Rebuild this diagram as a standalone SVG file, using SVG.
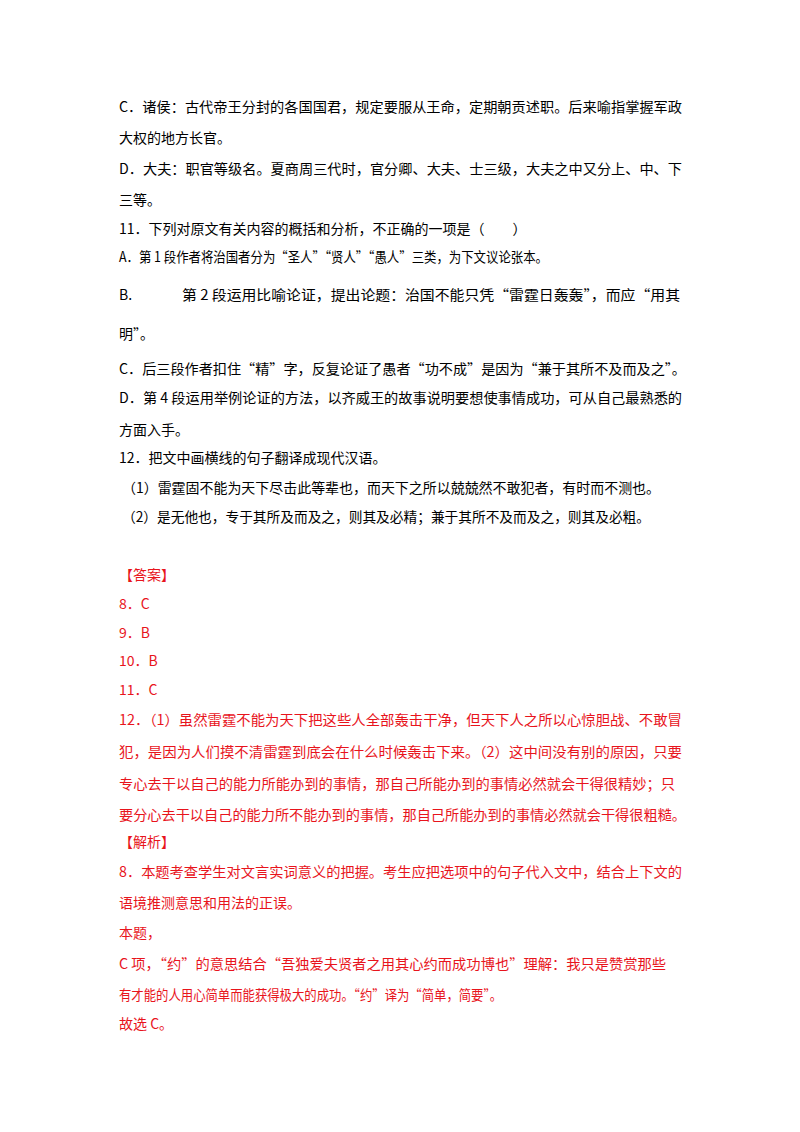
<svg xmlns="http://www.w3.org/2000/svg" width="800" height="1132" viewBox="0 0 800 1132">
<style>
text{font-family:"Noto Sans CJK SC","Liberation Serif",serif;font-size:14px;fill:#000}
.r{fill:#e8141c}
</style>
<rect width="800" height="1132" fill="#fff"/>
<g id="questions">
<text x="119" y="112" textLength="563" lengthAdjust="spacingAndGlyphs">C．诸侯：古代帝王分封的各国国君，规定要服从王命，定期朝贡述职。后来喻指掌握军政</text>
<text x="119" y="143">大权的地方长官。</text>
<text x="119" y="174" textLength="563" lengthAdjust="spacingAndGlyphs">D．大夫：职官等级名。夏商周三代时，官分卿、大夫、士三级，大夫之中又分上、中、下</text>
<text x="119" y="205">三等。</text>
<text x="119" y="234">11．下列对原文有关内容的概括和分析，不正确的一项是（　　）</text>
<text x="119" y="262" textLength="429" lengthAdjust="spacingAndGlyphs">A．第 1 段作者将治国者分为“圣人”“贤人”“愚人”三类，为下文议论张本。</text>
<text x="119" y="300">B.</text>
<text x="182" y="300" textLength="498" lengthAdjust="spacingAndGlyphs">第 2 段运用比喻论证，提出论题：治国不能只凭“雷霆日轰轰”，而应“用其</text>
<text x="119" y="339">明”。</text>
<text x="119" y="374" textLength="567" lengthAdjust="spacingAndGlyphs">C．后三段作者扣住“精”字，反复论证了愚者“功不成”是因为“兼于其所不及而及之”。</text>
<text x="119" y="403" textLength="563" lengthAdjust="spacingAndGlyphs">D．第 4 段运用举例论证的方法，以齐威王的故事说明要想使事情成功，可从自己最熟悉的</text>
<text x="119" y="435">方面入手。</text>
<text x="119" y="463">12．把文中画横线的句子翻译成现代汉语。</text>
<text x="122" y="493" textLength="538" lengthAdjust="spacingAndGlyphs">（1）雷霆固不能为天下尽击此等辈也，而天下之所以兢兢然不敢犯者，有时而不测也。</text>
<text x="122" y="522" textLength="528" lengthAdjust="spacingAndGlyphs">（2）是无他也，专于其所及而及之，则其及必精；兼于其所不及而及之，则其及必粗。</text>
</g>
<g id="answers">
<text class="r" x="119" y="580">【答案】</text>
<text class="r" x="119" y="609">8．C</text>
<text class="r" x="119" y="638">9．B</text>
<text class="r" x="119" y="666">10．B</text>
<text class="r" x="119" y="695">11．C</text>
<text class="r" x="119" y="725" textLength="563" lengthAdjust="spacingAndGlyphs">12．（1）虽然雷霆不能为天下把这些人全部轰击干净，但天下人之所以心惊胆战、不敢冒</text>
<text class="r" x="119" y="757" textLength="563" lengthAdjust="spacingAndGlyphs">犯，是因为人们摸不清雷霆到底会在什么时候轰击下来。（2）这中间没有别的原因，只要</text>
<text class="r" x="119" y="789" textLength="556" lengthAdjust="spacingAndGlyphs">专心去干以自己的能力所能办到的事情，那自己所能办到的事情必然就会干得很精妙；只</text>
<text class="r" x="119" y="820" textLength="567" lengthAdjust="spacingAndGlyphs">要分心去干以自己的能力所不能办到的事情，那自己所能办到的事情必然就会干得很粗糙。</text>
<text class="r" x="119" y="847">【解析】</text>
<text class="r" x="119" y="877" textLength="563" lengthAdjust="spacingAndGlyphs">8．本题考查学生对文言实词意义的把握。考生应把选项中的句子代入文中，结合上下文的</text>
<text class="r" x="119" y="908">语境推测意思和用法的正误。</text>
<text class="r" x="119" y="938">本题，</text>
<text class="r" x="119" y="969" textLength="547" lengthAdjust="spacingAndGlyphs">C 项，“约”的意思结合“吾独爱夫贤者之用其心约而成功博也”理解：我只是赞赏那些</text>
<text class="r" x="119" y="1000" textLength="383" lengthAdjust="spacingAndGlyphs">有才能的人用心简单而能获得极大的成功。“约”译为“简单，简要”。</text>
<text class="r" x="119" y="1029">故选 C。</text>
</g>
</svg>
